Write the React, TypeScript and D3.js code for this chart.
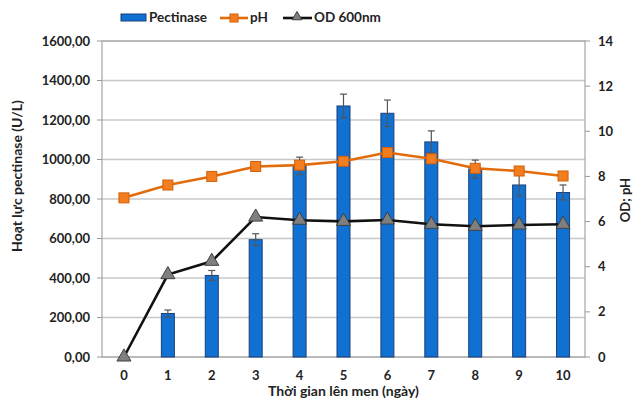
import React from 'react';
import * as d3 from 'd3';

const days = [0, 1, 2, 3, 4, 5, 6, 7, 8, 9, 10];
const pectinase = [0, 220, 413, 594, 968, 1271, 1234, 1089, 952, 871, 833];
const pectinaseErr = [0, 18, 25, 30, 44, 60, 67, 56, 45, 55, 38];
const pH = [7.05, 7.62, 8.0, 8.44, 8.5, 8.67, 9.06, 8.78, 8.36, 8.24, 8.02];
const od = [0, 3.65, 4.24, 6.2, 6.06, 6.01, 6.07, 5.88, 5.79, 5.85, 5.88];
const leftTicks = [0, 200, 400, 600, 800, 1000, 1200, 1400, 1600];
const rightTicks = [0, 2, 4, 6, 8, 10, 12, 14];

const font = "Lato, 'Liberation Sans', sans-serif";

const App = () => {
  const w = 642;
  const h = 402;
  const margin = { top: 41, right: 57, bottom: 45, left: 102 };
  const innerW = w - margin.left - margin.right;
  const innerH = h - margin.top - margin.bottom;

  const x = d3.scaleBand<number>().domain(days).range([0, innerW]);
  const yL = d3.scaleLinear().domain([0, 1600]).range([innerH, 0]);
  const yR = d3.scaleLinear().domain([0, 14]).range([innerH, 0]);
  const cx = (d: number) => (x(d) ?? 0) + x.bandwidth() / 2;
  const barW = 13;
  const fmt = (v: number) => v.toFixed(2).replace('.', ',');

  const phLine = d3.line<number>().x((_, i) => cx(days[i])).y(v => yR(v));
  const odLine = d3.line<number>().x((_, i) => cx(days[i])).y(v => yR(v));
  const tri = d3.symbol().type(d3.symbolTriangle).size(85)();

  return (
    <svg width={w} height={h} style={{ position: 'absolute', left: 0, top: 0, background: '#fff' }} fontFamily={font}>
      <g transform={`translate(${margin.left},${margin.top})`}>
        {leftTicks.map(t => (
          <g key={t}>
            <line x1={0} x2={innerW} y1={yL(t)} y2={yL(t)} stroke="#c8c8c8" strokeWidth={1.3} />
            <line x1={-5} x2={0} y1={yL(t)} y2={yL(t)} stroke="#999" />
            <text x={-12} y={yL(t)} dy="0.35em" textAnchor="end" fontSize={13} fontWeight="bold" fill="#222">{fmt(t)}</text>
          </g>
        ))}
        {rightTicks.map(t => (
          <g key={'r' + t}>
            <line x1={innerW} x2={innerW + 5} y1={yR(t)} y2={yR(t)} stroke="#999" />
            <text x={innerW + 13} y={yR(t)} dy="0.35em" fontSize={13} fontWeight="bold" fill="#222">{t}</text>
          </g>
        ))}
        <rect x={0} y={0} width={innerW} height={innerH} fill="none" stroke="#a6a6a6" strokeWidth={1.2} />

        {days.map((d, i) => i > 0 && (
          <rect key={'b' + d} x={cx(d) - barW / 2} y={yL(pectinase[i])} width={barW} height={innerH - yL(pectinase[i])}
            fill="#1171d3" stroke="#1d3f78" strokeWidth={1} />
        ))}
        {days.map((d, i) => i > 0 && (
          <g key={'e' + d} stroke="#555" strokeWidth={1.2}>
            <line x1={cx(d)} x2={cx(d)} y1={yL(pectinase[i] + pectinaseErr[i])} y2={yL(pectinase[i] - pectinaseErr[i])} />
            <line x1={cx(d) - 3.5} x2={cx(d) + 3.5} y1={yL(pectinase[i] + pectinaseErr[i])} y2={yL(pectinase[i] + pectinaseErr[i])} />
            <line x1={cx(d) - 3.5} x2={cx(d) + 3.5} y1={yL(pectinase[i] - pectinaseErr[i])} y2={yL(pectinase[i] - pectinaseErr[i])} />
          </g>
        ))}

        <path d={phLine(pH) ?? ''} fill="none" stroke="#e36c0a" strokeWidth={2.6} />
        {pH.map((v, i) => (
          <rect key={'p' + i} x={cx(days[i]) - 5} y={yR(v) - 5} width={10} height={10} fill="#f37e20" stroke="#d35f08" strokeWidth={1} />
        ))}

        <path d={odLine(od) ?? ''} fill="none" stroke="#111" strokeWidth={2.6} />
        {od.map((v, i) => (
          <path key={'o' + i} d={tri ?? ''} transform={`translate(${cx(days[i])},${yR(v)})`} fill="#7f7f7f" stroke="#404040" strokeWidth={1} />
        ))}

        {days.map(d => (
          <text key={'x' + d} x={cx(d)} y={innerH + 23} textAnchor="middle" fontSize={13} fontWeight="bold" fill="#222">{d}</text>
        ))}
      </g>

      <text x={margin.left + innerW / 2} y={396} textAnchor="middle" fontSize={14} fontWeight="bold" fill="#222">Thời gian lên men (ngày)</text>
      <text transform="translate(22,176) rotate(-90)" textAnchor="middle" fontSize={14} fontWeight="bold" fill="#222">Hoạt lực pectinase (U/L)</text>
      <text transform="translate(630,200) rotate(-90)" textAnchor="middle" fontSize={13} fontWeight="bold" fill="#222">OD; pH</text>

      <g fontSize={13.5} fontWeight="bold" fill="#222">
        <rect x={121} y={14} width={25} height={7} fill="#1171d3" stroke="#1d3f78" />
        <text x={149} y={22}>Pectinase</text>
        <line x1={220} x2={248} y1={18} y2={18} stroke="#e36c0a" strokeWidth={2.6} />
        <rect x={230} y={14} width={8} height={8} fill="#f37e20" stroke="#d35f08" />
        <text x={250} y={22}>pH</text>
        <line x1={283} x2={312} y1={18} y2={18} stroke="#111" strokeWidth={2.6} />
        <path d={d3.symbol().type(d3.symbolTriangle).size(40)() ?? ''} transform="translate(297,17)" fill="#7f7f7f" stroke="#404040" />
        <text x={314} y={22}>OD 600nm</text>
      </g>
    </svg>
  );
};

export default App;
